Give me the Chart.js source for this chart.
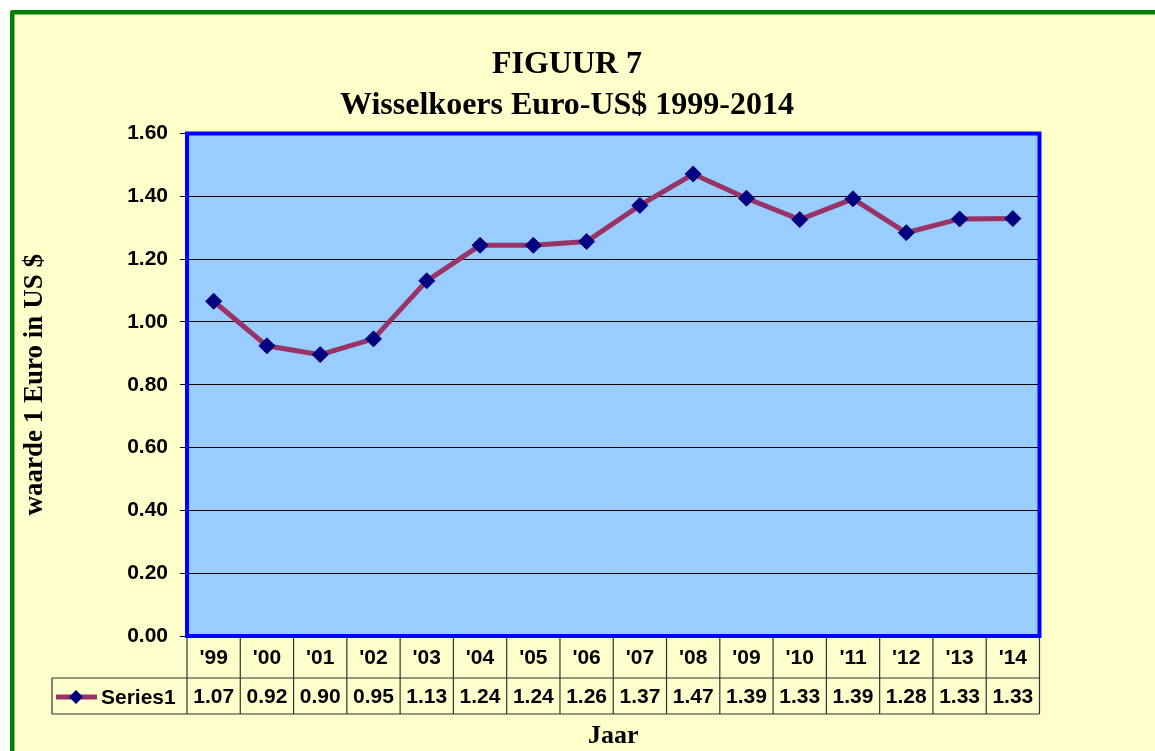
<!DOCTYPE html>
<html><head><meta charset="utf-8">
<script src="https://cdn.jsdelivr.net/npm/chart.js@4/dist/chart.umd.min.js"></script>
<style>html,body{margin:0;padding:0;background:#fff;}canvas{display:block;}</style>
</head><body>
<canvas id="c" width="1155" height="751"></canvas>
<script>
// ---- data ----
const titleLines = ['FIGUUR 7', 'Wisselkoers Euro-US$ 1999-2014'];
const years = ["'99","'00","'01","'02","'03","'04","'05","'06","'07","'08","'09","'10","'11","'12","'13","'14"];
const rates = [1.066,0.924,0.896,0.946,1.131,1.244,1.244,1.256,1.371,1.471,1.394,1.326,1.392,1.284,1.328,1.329];
const seriesName = 'Series1';
const yMin = 0, yMax = 1.6, yStep = 0.2;
const yTitle = 'waarde 1 Euro in US $';
const xTitle = 'Jaar';

const COL = {page:'#FFFFCC', plot:'#99CCFF', frame:'#008000', plotBorder:'#0000FF',
             line:'#993366', marker:'#000080', table:'#333333', text:'#000000'};
const SANS = '"Liberation Sans", Arial, sans-serif';
const SERIF = '"Liberation Serif", "Times New Roman", serif';

const deco = {
  id: 'deco',
  beforeDraw(chart) {
    const {ctx, chartArea: a, width: W, height: H} = chart;
    ctx.save();
    ctx.fillStyle = '#ffffff'; ctx.fillRect(0, 0, W, H);
    ctx.fillStyle = COL.page; ctx.fillRect(12, 12, W, H);
    ctx.strokeStyle = COL.frame; ctx.lineWidth = 4.5; ctx.lineJoin = 'round';
    ctx.beginPath(); ctx.moveTo(12.25, H + 10); ctx.lineTo(12.25, 12.25); ctx.lineTo(W + 10, 12.25); ctx.stroke();
    ctx.fillStyle = COL.plot; ctx.fillRect(a.left, a.top, a.right - a.left, a.bottom - a.top);
    ctx.fillStyle = COL.text; ctx.font = 'bold 32px ' + SERIF;
    ctx.textAlign = 'center'; ctx.textBaseline = 'middle';
    titleLines.forEach((t, i) => ctx.fillText(t, 567, 65 + i * 41));
    ctx.restore();
  },
  beforeDatasetsDraw(chart) {
    const {ctx, chartArea: a} = chart;
    ctx.save();
    ctx.strokeStyle = COL.plotBorder; ctx.lineWidth = 4;
    ctx.strokeRect(a.left, a.top, a.right - a.left, a.bottom - a.top);
    ctx.restore();
  },
  afterDraw(chart) {
    const {ctx, chartArea: a} = chart;
    const xs = chart.scales.x;
    const n = years.length;
    const cw = (a.right - a.left) / n;
    const r1 = a.bottom + 2, r2 = 678, r3 = 714, legL = 52;
    ctx.save();
    ctx.strokeStyle = COL.table; ctx.lineWidth = 1.2;
    ctx.beginPath();
    for (let i = 0; i <= n; i++) {
      const x = a.left + i * cw;
      ctx.moveTo(x, r1); ctx.lineTo(x, r3);
    }
    ctx.moveTo(legL, r2); ctx.lineTo(a.right, r2);
    ctx.moveTo(legL, r3); ctx.lineTo(a.right, r3);
    ctx.moveTo(legL, r2); ctx.lineTo(legL, r3);
    ctx.stroke();
    // values
    ctx.fillStyle = COL.text; ctx.font = 'bold 21px ' + SANS;
    ctx.textAlign = 'center'; ctx.textBaseline = 'middle';
    rates.forEach((v, i) => ctx.fillText(v.toFixed(2), xs.getPixelForValue(i), 697));
    // legend key
    const ly = 697;
    ctx.strokeStyle = COL.line; ctx.lineWidth = 5;
    ctx.beginPath(); ctx.moveTo(56, ly); ctx.lineTo(97, ly); ctx.stroke();
    ctx.fillStyle = COL.marker;
    ctx.beginPath(); ctx.moveTo(76, ly - 7); ctx.lineTo(83, ly); ctx.lineTo(76, ly + 7); ctx.lineTo(69, ly); ctx.closePath(); ctx.fill();
    ctx.fillStyle = COL.text; ctx.textAlign = 'left';
    ctx.fillText(seriesName, 101, ly + 1);
    ctx.restore();
  }
};

new Chart(document.getElementById('c'), {
  type: 'line',
  data: {
    labels: years,
    datasets: [{
      label: seriesName,
      data: rates,
      borderColor: COL.line,
      borderWidth: 5,
      tension: 0,
      pointStyle: 'rectRot',
      pointRadius: 8,
      pointBackgroundColor: COL.marker,
      pointBorderColor: COL.marker,
      pointBorderWidth: 1
    }]
  },
  options: {
    responsive: false,
    animation: false,
    devicePixelRatio: 1,
    events: [],
    layout: {padding: {left: 0, top: 133.5, right: 115.5, bottom: 0}},
    plugins: {legend: {display: false}, tooltip: {enabled: false}, title: {display: false}},
    scales: {
      y: {
        min: yMin, max: yMax,
        afterFit(s) { s.width = 187; },
        ticks: {stepSize: yStep, padding: 12, color: COL.text,
                font: {family: SANS, size: 21, weight: 'bold'},
                callback: v => Number(v).toFixed(2)},
        grid: {color: '#000000', lineWidth: 1, tickLength: 7, drawTicks: true},
        border: {display: false},
        title: {display: true, text: yTitle, color: COL.text,
                font: {family: SERIF, size: 27, weight: 'bold'}, padding: {top: 19, bottom: 0}}
      },
      x: {
        type: 'category',
        offset: true,
        afterFit(s) { s.height = 115; },
        grid: {display: false, drawTicks: false},
        border: {display: false},
        ticks: {autoSkip: false, maxRotation: 0, padding: 10, color: COL.text,
                font: {family: SANS, size: 21, weight: 'bold'}},
        title: {display: true, text: xTitle, color: COL.text,
                font: {family: SERIF, size: 26, weight: 'bold'}, padding: {top: 0, bottom: -1}}
      }
    }
  },
  plugins: [deco]
});
</script>
</body></html>
